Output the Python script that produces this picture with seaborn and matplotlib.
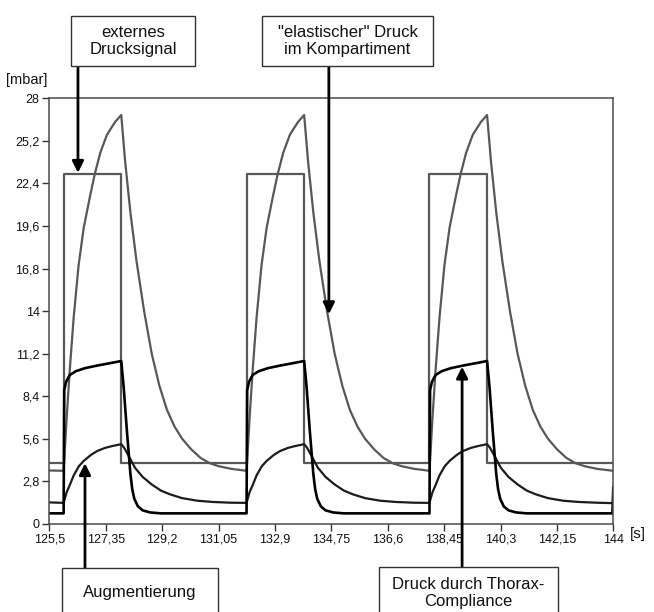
import matplotlib
matplotlib.use("Agg")
import matplotlib.pyplot as plt
import seaborn as sns
import pandas as pd
from matplotlib.patches import Rectangle

# ---- data (time in s, pressure in mbar) ----
signal_t = [125.50, 125.97, 127.86, 131.97, 133.86, 137.97, 139.86, 144.00]
signal_p = [4.0, 23.0, 4.0, 23.0, 4.0, 23.0, 4.0, 4.0]

elastic_t = [125.50,
             125.97, 126.07, 126.17, 126.30, 126.46, 126.63, 126.84, 126.99, 127.17,
             127.39, 127.66, 127.86, 127.99, 128.16, 128.36, 128.61, 128.86, 129.11,
             129.36, 129.61, 129.86, 130.16, 130.46, 130.76, 131.06, 131.46,
             131.97, 132.07, 132.17, 132.30, 132.46, 132.63, 132.84, 132.99, 133.17,
             133.39, 133.66, 133.86, 133.99, 134.16, 134.36, 134.61, 134.86, 135.11,
             135.36, 135.61, 135.86, 136.16, 136.46, 136.76, 137.06, 137.46,
             137.97, 138.07, 138.17, 138.30, 138.46, 138.63, 138.84, 138.99, 139.17,
             139.39, 139.66, 139.86, 139.99, 140.16, 140.36, 140.61, 140.86, 141.11,
             141.36, 141.61, 141.86, 142.16, 142.46, 142.76, 143.06, 143.46,
             144.00]
elastic_p = [3.52,
             3.5, 7.0, 10.1, 13.6, 17.0, 19.5, 21.6, 23.0, 24.4,
             25.6, 26.45, 26.9, 23.8, 20.5, 17.3, 14.0, 11.2, 9.1,
             7.5, 6.4, 5.6, 4.9, 4.35, 4.0, 3.8, 3.63,
             3.5, 7.0, 10.1, 13.6, 17.0, 19.5, 21.6, 23.0, 24.4,
             25.6, 26.45, 26.9, 23.8, 20.5, 17.3, 14.0, 11.2, 9.1,
             7.5, 6.4, 5.6, 4.9, 4.35, 4.0, 3.8, 3.63,
             3.5, 7.0, 10.1, 13.6, 17.0, 19.5, 21.6, 23.0, 24.4,
             25.6, 26.45, 26.9, 23.8, 20.5, 17.3, 14.0, 11.2, 9.1,
             7.5, 6.4, 5.6, 4.9, 4.35, 4.0, 3.8, 3.63,
             3.5]

thorax_t = [125.50,
            125.97, 125.99, 126.05, 126.17, 126.37, 126.67, 127.07, 127.47, 127.86,
            127.94, 128.05, 128.16, 128.22, 128.29, 128.41, 128.56, 128.81, 129.16,
            131.97, 131.99, 132.05, 132.17, 132.37, 132.67, 133.07, 133.47, 133.86,
            133.94, 134.05, 134.16, 134.22, 134.29, 134.41, 134.56, 134.81, 135.16,
            137.97, 137.99, 138.05, 138.17, 138.37, 138.67, 139.07, 139.47, 139.86,
            139.94, 140.05, 140.16, 140.22, 140.29, 140.41, 140.56, 140.81, 141.16,
            143.97, 144.00]
thorax_p = [0.7,
            0.7, 8.8, 9.35, 9.8, 10.05, 10.25, 10.42, 10.57, 10.72,
            9.0, 6.0, 3.3, 2.3, 1.65, 1.15, 0.9, 0.76, 0.7,
            0.7, 8.8, 9.35, 9.8, 10.05, 10.25, 10.42, 10.57, 10.72,
            9.0, 6.0, 3.3, 2.3, 1.65, 1.15, 0.9, 0.76, 0.7,
            0.7, 8.8, 9.35, 9.8, 10.05, 10.25, 10.42, 10.57, 10.72,
            9.0, 6.0, 3.3, 2.3, 1.65, 1.15, 0.9, 0.76, 0.7,
            0.7, 2.45]

augment_t = [125.50,
             125.97, 126.07, 126.17, 126.30, 126.47, 126.63, 126.87, 127.07, 127.32,
             127.57, 127.86, 127.96, 128.11, 128.31, 128.56, 128.86, 129.16, 129.46,
             129.86, 130.36, 130.86, 131.46,
             131.97, 132.07, 132.17, 132.30, 132.47, 132.63, 132.87, 133.07, 133.32,
             133.57, 133.86, 133.96, 134.11, 134.31, 134.56, 134.86, 135.16, 135.46,
             135.86, 136.36, 136.86, 137.46,
             137.97, 138.07, 138.17, 138.30, 138.47, 138.63, 138.87, 139.07, 139.32,
             139.57, 139.86, 139.96, 140.11, 140.31, 140.56, 140.86, 141.16, 141.46,
             141.86, 142.36, 142.86, 143.46,
             144.00]
augment_p = [1.42,
             1.39, 2.1, 2.55, 3.2, 3.8, 4.15, 4.55, 4.8, 5.0,
             5.13, 5.25, 5.0, 4.45, 3.7, 3.1, 2.6, 2.2, 1.95,
             1.7, 1.53, 1.45, 1.4,
             1.39, 2.1, 2.55, 3.2, 3.8, 4.15, 4.55, 4.8, 5.0,
             5.13, 5.25, 5.0, 4.45, 3.7, 3.1, 2.6, 2.2, 1.95,
             1.7, 1.53, 1.45, 1.4,
             1.39, 2.1, 2.55, 3.2, 3.8, 4.15, 4.55, 4.8, 5.0,
             5.13, 5.25, 5.0, 4.45, 3.7, 3.1, 2.6, 2.2, 1.95,
             1.7, 1.53, 1.45, 1.4,
             1.37]

x_ticks = [125.5, 127.35, 129.2, 131.05, 132.9, 134.75, 136.6, 138.45, 140.3, 142.15, 144.0]
x_labels = ["125,5", "127,35", "129,2", "131,05", "132,9", "134,75",
            "136,6", "138,45", "140,3", "142,15", "144"]
y_ticks = [0, 2.8, 5.6, 8.4, 11.2, 14, 16.8, 19.6, 22.4, 25.2, 28]
y_labels = ["0", "2,8", "5,6", "8,4", "11,2", "14", "16,8", "19,6", "22,4", "25,2", "28"]

# ---- figure ----
sns.set_theme(style="ticks")
plt.rcParams["font.family"] = ["Liberation Sans Narrow", "Liberation Sans", "DejaVu Sans"]

W, H = 654, 612
fig = plt.figure(figsize=(W / 100, H / 100), dpi=100)
fig.patch.set_facecolor("white")


def fx(px):
    return px / W


def fy(py):
    return 1 - py / H


ax = fig.add_axes([fx(49.3), fy(524), fx(613.3) - fx(49.3), fy(98.3) - fy(524)])

gray = "#585858"
sns.lineplot(x=signal_t, y=signal_p, ax=ax, color=gray, lw=1.6,
             drawstyle="steps-post", estimator=None, sort=False)
sns.lineplot(x=elastic_t, y=elastic_p, ax=ax, color=gray, lw=1.6,
             estimator=None, sort=False)
sns.lineplot(x=augment_t, y=augment_p, ax=ax, color="#1c1c1c", lw=1.6,
             estimator=None, sort=False)
sns.lineplot(x=thorax_t, y=thorax_p, ax=ax, color="black", lw=1.9,
             estimator=None, sort=False)

ax.set_xlim(125.5, 144)
ax.set_ylim(0, 28)
ax.set_xticks(x_ticks)
ax.set_xticklabels(x_labels)
ax.set_yticks(y_ticks)
ax.set_yticklabels(y_labels)
ax.set_xlabel("")
ax.set_ylabel("")
ax.tick_params(direction="out", length=5, width=1, color="#333333",
               labelsize=9, labelcolor="#111111", pad=2)
for s in ax.spines.values():
    s.set_color("#4a4a4a")
    s.set_linewidth(1.1)

# unit labels
fig.text(fx(27), fy(80), "[mbar]", ha="center", va="center", fontsize=10.5,
         family=["Liberation Sans", "DejaVu Sans"], color="#111111")
fig.text(fx(638), fy(534), "[s]", ha="center", va="center", fontsize=11,
         family=["Liberation Sans", "DejaVu Sans"], color="#111111")

# annotation boxes
boxes = [
    (71, 16, 195, 66, "externes\nDrucksignal", 41),
    (262, 16, 433, 66, "\"elastischer\" Druck\nim Kompartiment", 41),
    (62, 568, 218, 640, "Augmentierung", 593),
    (379, 567, 558, 640, "Druck durch Thorax-\nCompliance", 593),
]
for x0, y0, x1, y1, label, ty in boxes:
    fig.patches.append(Rectangle((fx(x0), fy(y1)), fx(x1) - fx(x0), fy(y0) - fy(y1),
                                 transform=fig.transFigure, facecolor="white",
                                 edgecolor="#333333", lw=1.0, zorder=3))
    fig.text(fx((x0 + x1) / 2), fy(ty), label, ha="center", va="center",
             fontsize=12, linespacing=1.2, color="#111111",
             family=["Liberation Sans", "DejaVu Sans"], zorder=4)

# arrows from boxes to curves (start, tip) in data units
arrows = [
    ((126.44, 30.1), (126.44, 23.1)),
    ((134.67, 30.1), (134.67, 13.8)),
    ((126.67, -2.9), (126.67, 4.0)),
    ((139.04, -2.8), (139.04, 10.35)),
]
for start, tip in arrows:
    ax.annotate("", xy=tip, xytext=start, xycoords="data", textcoords="data",
                annotation_clip=False,
                arrowprops=dict(arrowstyle="-|>", color="black", lw=2.0,
                                mutation_scale=17, shrinkA=0, shrinkB=0))

fig.savefig("out.png", dpi=100)
